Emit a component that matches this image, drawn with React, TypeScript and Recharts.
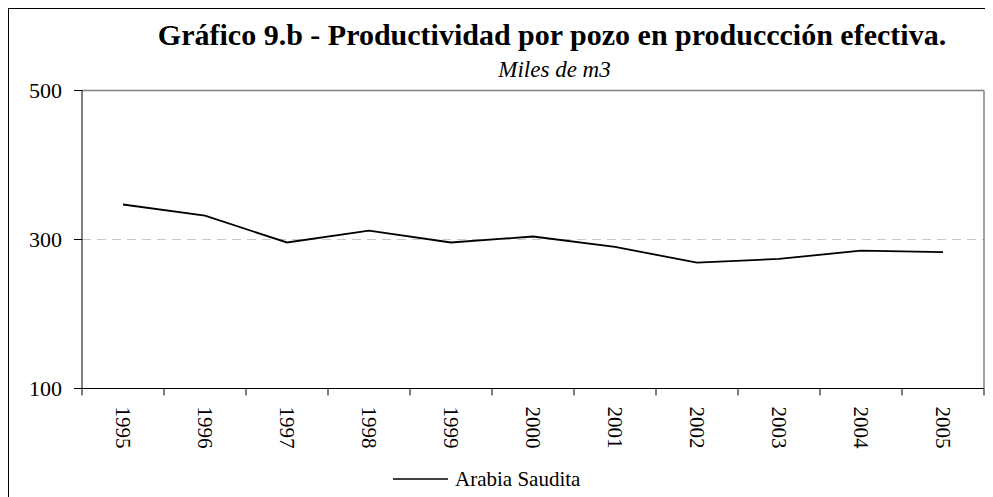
import React from 'react';
import { LineChart, Line, XAxis, YAxis, CartesianGrid, ReferenceLine, Legend } from 'recharts';

const years = [1995, 1996, 1997, 1998, 1999, 2000, 2001, 2002, 2003, 2004, 2005];
const arabiaSaudita = [347, 332, 296, 312, 296, 304, 290, 269, 274, 285, 283];
const bandEdges = [1994.5, 1995.5, 1996.5, 1997.5, 1998.5, 1999.5, 2000.5, 2001.5, 2002.5, 2003.5, 2004.5, 2005.5];
const yTicks = [100, 300, 500];

const FONT = "'Liberation Serif', 'Times New Roman', serif";

const data = years.map((year, i) => ({ year, arabia: arabiaSaudita[i] }));

const YearTick = (props: any) => {
  const { x, y, payload } = props;
  return (
    <text
      x={x}
      y={y}
      dy="0.35em"
      transform={`rotate(90, ${x}, ${y})`}
      textAnchor="start"
      fontSize={21}
      fontFamily={FONT}
      fill="#000"
    >
      {payload.value}
    </text>
  );
};

const EmptyTick = () => <g />;

const LegendBox = (props: any) => {
  const item = props.payload && props.payload[0];
  return (
    <svg width={220} height={30}>
      <line x1={0} y1={15} x2={55} y2={15} stroke="#000" strokeWidth={1.5} />
      <text x={62} y={22} fontSize={21} fontFamily={FONT} fill="#000">
        {item ? item.value : 'Arabia Saudita'}
      </text>
    </svg>
  );
};

export default function App() {
  return (
    <div
      style={{
        position: 'relative',
        width: 985,
        height: 489,
        background: '#fff',
        fontFamily: FONT,
      }}
    >
      <div style={{ position: 'absolute', left: 0, top: 0, width: 985, height: 1, background: '#000' }} />
      <div style={{ position: 'absolute', left: 0, top: 0, width: 1, height: 489, background: '#000' }} />
      <div style={{ position: 'absolute', left: 0, top: 1 }}>
        <LineChart
          width={985}
          height={488}
          data={data}
          margin={{ top: 81.5, right: 9, left: 0, bottom: 106.5 }}
        >
          <CartesianGrid
            xAxisId="edges"
            vertical={false}
            stroke="#c8c8c8"
            strokeDasharray="9 6"
          />
          <XAxis
            xAxisId="edges"
            type="number"
            dataKey="year"
            domain={[1994.5, 2005.5]}
            ticks={bandEdges}
            interval={0}
            tick={<EmptyTick />}
            tickSize={7}
            height={1}
            axisLine={{ stroke: '#000' }}
            tickLine={{ stroke: '#000', strokeWidth: 1 }}
          />
          <XAxis
            xAxisId="labels"
            type="number"
            dataKey="year"
            domain={[1994.5, 2005.5]}
            ticks={years}
            interval={0}
            tick={<YearTick />}
            tickSize={8}
            tickMargin={9}
            height={1}
            axisLine={false}
            tickLine={false}
          />
          <YAxis
            type="number"
            domain={[100, 500]}
            ticks={yTicks}
            width={74}
            tickSize={8}
            tickMargin={12}
            axisLine={{ stroke: '#000' }}
            tickLine={{ stroke: '#000' }}
            tick={{ fill: '#000', fontSize: 22, fontFamily: FONT }}
          />
          <ReferenceLine xAxisId="edges" y={500} stroke="#808080" strokeWidth={1.5} />
          <ReferenceLine xAxisId="edges" x={2005.5} stroke="#808080" strokeWidth={1.5} />
          <Line
            xAxisId="edges"
            type="linear"
            dataKey="arabia"
            name="Arabia Saudita"
            stroke="#000"
            strokeWidth={1.8}
            dot={false}
            isAnimationActive={false}
          />
          <Legend
            layout="horizontal"
            align="center"
            verticalAlign="middle"
            content={<LegendBox />}
            wrapperStyle={{ top: 455, left: 385, width: 220 }}
          />
        </LineChart>
      </div>
      <svg
        width={985}
        height={100}
        style={{ position: 'absolute', left: 0, top: 1, pointerEvents: 'none' }}
      >
        <text x={544} y={35.5} textAnchor="middle" fontSize={30} fontWeight="bold" fontFamily={FONT} fill="#000">
          Gráfico 9.b - Productividad por pozo en produccción efectiva.
        </text>
        <text x={546.5} y={68} textAnchor="middle" fontSize={23} fontStyle="italic" fontFamily={FONT} fill="#000">
          Miles de m3
        </text>
      </svg>
    </div>
  );
}
